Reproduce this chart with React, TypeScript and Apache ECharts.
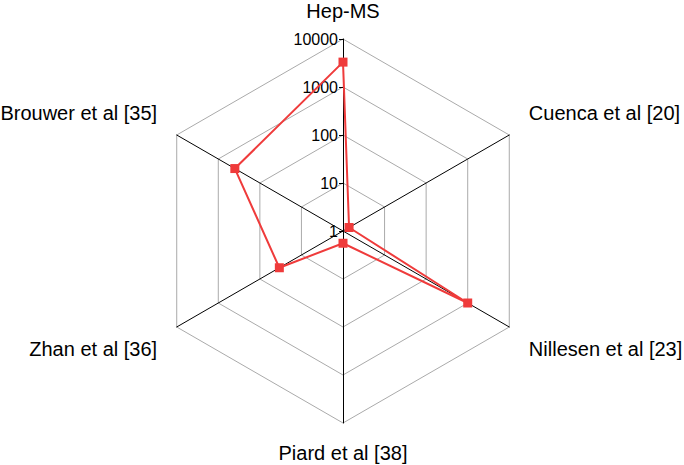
import React, { useEffect, useRef } from "react";
import * as echarts from "echarts";

// Indicators in ECharts' counter-clockwise order starting from the top
const indicatorNames = [
  "Hep-MS",
  "Brouwer et al [35]",
  "Zhan et al [36]",
  "Piard et al [38]",
  "Nillesen et al [23]",
  "Cuenca et al [20]",
];
const seriesValues = [3300, 400, 34, 1.8, 1000, 1.4];
const tickValues = [1, 10, 100, 1000, 10000];

const logMin = Math.log10(tickValues[0]);
const logMax = Math.log10(tickValues[tickValues.length - 1]);

export default function App() {
  const ref = useRef<HTMLDivElement>(null);
  useEffect(() => {
    if (!ref.current) return;
    const chart = echarts.init(ref.current, undefined, { renderer: "svg" });
    const font = "'Liberation Sans', Arial, sans-serif";
    const base = { color: "#000", fontSize: 20, fontFamily: font };
    const n = indicatorNames.length;
    const styleKey = (i: number) => {
      if (i === 0) return "top";
      if (i === n / 2) return "bottom";
      const up = i < n / 4 || i > (3 * n) / 4;
      const left = i < n / 2;
      return (up ? "u" : "d") + (left ? "l" : "r");
    };
    chart.setOption({
      animation: false,
      backgroundColor: "#fff",
      radar: {
        center: [343, 231],
        radius: 192,
        startAngle: 90,
        splitNumber: tickValues.length - 1,
        shape: "polygon",
        nameGap: 18,
        axisName: {
          ...base,
          formatter: (name: string) => {
            const i = indicatorNames.indexOf(name);
            return `{${styleKey(i)}|${name}}`;
          },
          rich: {
            top: { ...base, padding: [0, 0, 0, 0] },
            bottom: { ...base, padding: [2, 0, 0, 0] },
            ul: { ...base, padding: [0, 4, 26, 0] },
            ur: { ...base, padding: [0, 0, 26, 4] },
            dl: { ...base, padding: [26, 4, 0, 0] },
            dr: { ...base, padding: [26, 0, 0, 4] },
          },
        },
        splitLine: { lineStyle: { color: "#aaa", width: 1 } },
        splitArea: { show: false },
        axisLine: { lineStyle: { color: "#000", width: 1 } },
        axisTick: { show: false },
        axisLabel: { show: false },
        indicator: indicatorNames.map((name, i) => ({
          name,
          min: logMin,
          max: logMax,
          ...(i === 0
            ? {
                axisLabel: {
                  show: true,
                  color: "#000",
                  fontSize: 16,
                  fontFamily: font,
                  margin: 5,
                  formatter: (v: number) => String(Math.round(Math.pow(10, v))),
                },
                axisTick: { show: true, length: 4, lineStyle: { color: "#000" } },
              }
            : {}),
        })),
      },
      series: [
        {
          type: "radar",
          symbol: "rect",
          symbolSize: 9,
          lineStyle: { color: "#ef3b3b", width: 2 },
          itemStyle: { color: "#ef3b3b" },
          data: [{ value: seriesValues.map((v) => Math.log10(v)) }],
        },
      ],
    });
    return () => chart.dispose();
  }, []);
  return (
    <div
      ref={ref}
      style={{ position: "fixed", left: 0, top: 0, width: 684, height: 465 }}
    />
  );
}
